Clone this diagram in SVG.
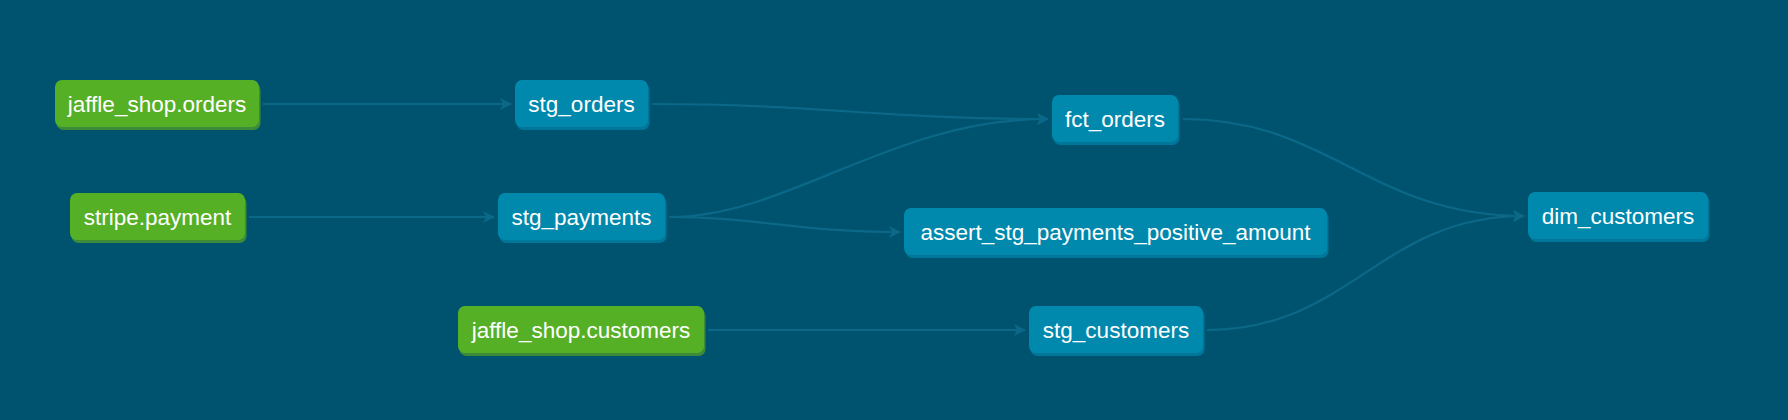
<svg xmlns="http://www.w3.org/2000/svg" width="1788" height="420" viewBox="0 0 1788 420">
<style>
.src .shadow{fill:#3C8B3A}
.src .box{fill:#56B026}
.mdl .shadow{fill:#00769A}
.mdl .box{fill:#0089AD}
text{font-family:"Liberation Sans",Arial,sans-serif;font-size:22.5px;fill:#FFFFFF;text-anchor:middle;dominant-baseline:central}
.edge{fill:none;stroke:#0B6888;stroke-width:2.2}
</style>
<defs>
<marker id="arr" viewBox="0 0 12 12" refX="11" refY="6" markerWidth="12" markerHeight="12" markerUnits="userSpaceOnUse" orient="auto">
<path d="M0,0 L12,6 L0,12 L3,6 Z" fill="#0B6888"/>
</marker>
</defs>
<rect width="1788" height="420" fill="#00536E"/>
<g id="connectors">
<path class="edge" d="M263,104 L511,104" marker-end="url(#arr)"/>
<path class="edge" d="M249,217 L494,217" marker-end="url(#arr)"/>
<path class="edge" d="M708,330 L1025,330" marker-end="url(#arr)"/>
<path class="edge" d="M652,104 C 820,104 880,119 1048,119" marker-end="url(#arr)"/>
<path class="edge" d="M669,217 C 790,217 890,119 1048,119" marker-end="url(#arr)"/>
<path class="edge" d="M669,217 C 760,217 790,232 900,232" marker-end="url(#arr)"/>
<path class="edge" d="M1183,119 C 1330,119 1370,216 1524,216" marker-end="url(#arr)"/>
<path class="edge" d="M1207,330 C 1350,330 1380,216 1524,216" marker-end="url(#arr)"/>
</g>
<g id="jaffle_shop_orders" class="src">
<rect class="shadow" x="56.5" y="83" width="204" height="47" rx="7"/>
<rect class="box" x="55" y="80" width="204" height="47" rx="7"/>
<text x="157" y="104">jaffle_shop.orders</text>
</g>
<g id="stripe_payment" class="src">
<rect class="shadow" x="71.5" y="196" width="175" height="47" rx="7"/>
<rect class="box" x="70" y="193" width="175" height="47" rx="7"/>
<text x="157.5" y="217">stripe.payment</text>
</g>
<g id="jaffle_shop_customers" class="src">
<rect class="shadow" x="459.5" y="309" width="246" height="47" rx="7"/>
<rect class="box" x="458" y="306" width="246" height="47" rx="7"/>
<text x="581" y="330">jaffle_shop.customers</text>
</g>
<g id="stg_orders" class="mdl">
<rect class="shadow" x="516.5" y="83" width="133" height="47" rx="7"/>
<rect class="box" x="515" y="80" width="133" height="47" rx="7"/>
<text x="581.5" y="104">stg_orders</text>
</g>
<g id="stg_payments" class="mdl">
<rect class="shadow" x="499.5" y="196" width="167" height="47" rx="7"/>
<rect class="box" x="498" y="193" width="167" height="47" rx="7"/>
<text x="581.5" y="217">stg_payments</text>
</g>
<g id="fct_orders" class="mdl">
<rect class="shadow" x="1053.5" y="98" width="126" height="47" rx="7"/>
<rect class="box" x="1052" y="95" width="126" height="47" rx="7"/>
<text x="1115" y="119">fct_orders</text>
</g>
<g id="assert_stg_payments_positive_amount" class="mdl">
<rect class="shadow" x="905.5" y="211" width="423" height="47" rx="7"/>
<rect class="box" x="904" y="208" width="423" height="47" rx="7"/>
<text x="1115.5" y="232">assert_stg_payments_positive_amount</text>
</g>
<g id="stg_customers" class="mdl">
<rect class="shadow" x="1030.5" y="309" width="174" height="47" rx="7"/>
<rect class="box" x="1029" y="306" width="174" height="47" rx="7"/>
<text x="1116" y="330">stg_customers</text>
</g>
<g id="dim_customers" class="mdl">
<rect class="shadow" x="1529.5" y="195" width="180" height="47" rx="7"/>
<rect class="box" x="1528" y="192" width="180" height="47" rx="7"/>
<text x="1618" y="216">dim_customers</text>
</g>
</svg>
